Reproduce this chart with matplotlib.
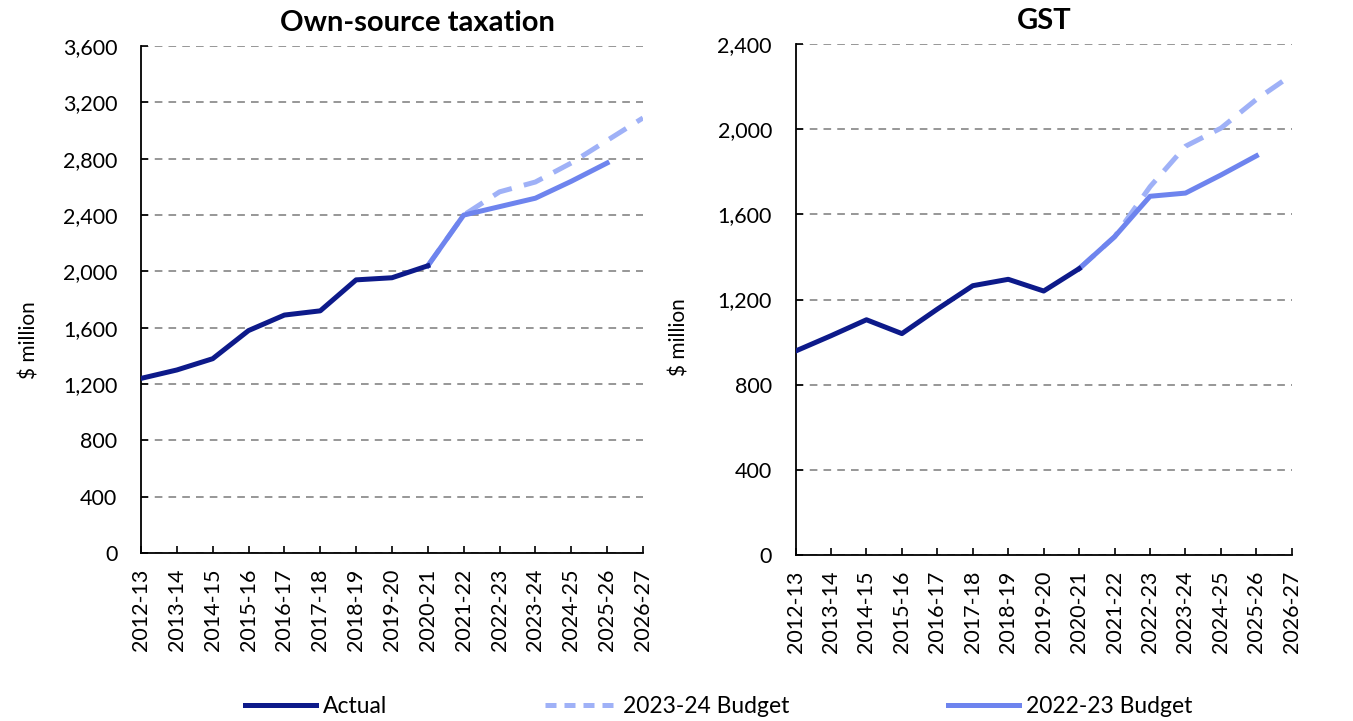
"""Own-source taxation and GST revenue: actuals vs budget estimates."""

import matplotlib

matplotlib.use("Agg")
import matplotlib.pyplot as plt
import numpy as np
from matplotlib.lines import Line2D

YEARS = [
    "2012-13", "2013-14", "2014-15", "2015-16", "2016-17", "2017-18", "2018-19",
    "2019-20", "2020-21", "2021-22", "2022-23", "2023-24", "2024-25", "2025-26",
    "2026-27",
]
nan = np.nan

# Own-source taxation, $ million
own_actual = [1240, 1300, 1380, 1580, 1690, 1720, 1940, 1955, 2040,
              nan, nan, nan, nan, nan, nan]
own_budget_2324 = [nan, nan, nan, nan, nan, nan, nan, nan, 2040,
                   2400, 2565, 2635, 2770, 2930, 3090]
own_budget_2223 = [nan, nan, nan, nan, nan, nan, nan, nan, 2040,
                   2400, 2460, 2520, 2640, 2770, nan]

# GST, $ million
gst_actual = [958, 1030, 1105, 1040, 1155, 1265, 1295, 1240, 1345,
              nan, nan, nan, nan, nan, nan]
gst_budget_2324 = [nan, nan, nan, nan, nan, nan, nan, nan, 1345,
                   1495, 1730, 1920, 2005, 2140, 2255]
gst_budget_2223 = [nan, nan, nan, nan, nan, nan, nan, nan, 1345,
                   1495, 1685, 1700, 1785, 1875, nan]

LABELS = ["Actual", "2023-24 Budget", "2022-23 Budget"]
C_ACTUAL = "#0D1A8A"
C_2324 = "#9FB1F7"
C_2223 = "#6E84EE"
LW = 3.6

plt.rcParams.update(
    {
        "font.family": ["Lato", "DejaVu Sans"],
        "font.size": 15,
        "axes.spines.top": False,
        "axes.spines.right": False,
    }
)

fig = plt.figure(figsize=(13.53, 7.21), dpi=100)
ax1 = fig.add_axes([0.1042, 0.233, 0.371, 0.703])
ax2 = fig.add_axes([0.588, 0.2302, 0.3668, 0.7087])

x = np.arange(len(YEARS))


def draw_panel(ax, actual, b2324, b2223, ymax, title, title_x):
    ax.plot(x, b2324, color=C_2324, lw=LW, dashes=(4, 2.5), solid_capstyle="butt",
            zorder=3)
    ax.plot(x, b2223, color=C_2223, lw=LW, zorder=4)
    ax.plot(x, actual, color=C_ACTUAL, lw=LW, zorder=5)
    ax.set_xlim(0, len(YEARS) - 1)
    ax.set_ylim(0, ymax)
    ax.set_yticks(np.arange(0, ymax + 1, 400))
    ax.yaxis.set_major_formatter(matplotlib.ticker.StrMethodFormatter("{x:,.0f}"))
    ax.set_xticks(x)
    ax.set_xticklabels(YEARS, rotation=90)
    ax.tick_params(axis="both", direction="in", length=5, width=1.2, labelsize=15.5)
    ax.tick_params(axis="y", pad=17)
    ax.tick_params(axis="x", pad=11)
    for sp in ("left", "bottom"):
        ax.spines[sp].set_linewidth(1.3)
    ax.grid(axis="y", color="#7a7a7a", lw=1.1, ls=(0, (5, 4)), zorder=1)
    ax.set_ylabel("$ million", fontsize=15)
    ax.text(title_x, 1.045, title, transform=ax.transAxes, ha="center",
            va="center", fontsize=21, fontweight="bold")


draw_panel(ax1, own_actual, own_budget_2324, own_budget_2223, 3600,
           "Own-source taxation", 0.551)
draw_panel(ax2, gst_actual, gst_budget_2324, gst_budget_2223, 2400, "GST", 0.5)

# y-label placement for both panels (figure pixels -> axes fraction)
ax1.yaxis.set_label_coords((40 - 141) / 502, 0.42)
ax2.yaxis.set_label_coords((690 - 795.7) / 496.3, 0.426)

handles = [
    Line2D([], [], color=C_ACTUAL, lw=LW),
    Line2D([], [], color=C_2324, lw=LW, dashes=(2.2, 1.6)),
    Line2D([], [], color=C_2223, lw=LW),
]
for h, lab, xpos in zip(handles, LABELS, [0.181, 0.403, 0.7007]):
    fig.legend(
        [h], [lab],
        loc="center left",
        bbox_to_anchor=(xpos, 0.02),
        frameon=False,
        fontsize=16.5,
        handlelength=3.1,
        handletextpad=0.3,
        borderpad=0,
        borderaxespad=0,
    )

fig.savefig("out.png", dpi=100)
plt.close(fig)
